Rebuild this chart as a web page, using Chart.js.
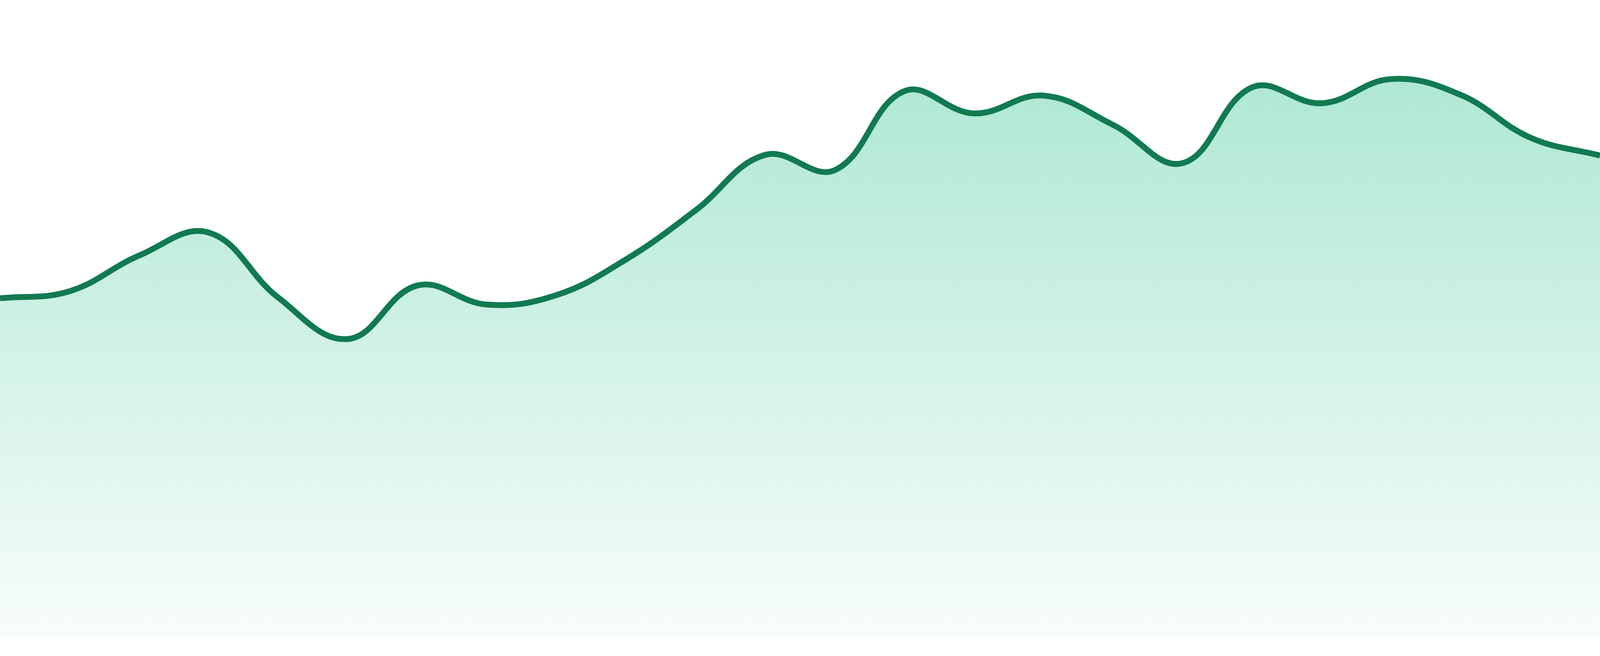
<!DOCTYPE html>
<html>
<head>
<meta charset="utf-8">
<script src="https://cdn.jsdelivr.net/npm/chart.js@4/dist/chart.umd.min.js"></script>
<style>
  html, body { margin: 0; padding: 0; background: #fff; }
  #wrap { width: 100vw; height: 100vh; position: relative; }
</style>
</head>
<body>
<div id="wrap"><canvas id="trend"></canvas></div>
<script>
// 24 samples
var labels = ['01', '02', '03', '04', '05', '06', '07', '08', '09', '10', '11', '12',
              '13', '14', '15', '16', '17', '18', '19', '20', '21', '22', '23', '24'];
var values = [53.2, 54.3, 59.9, 63.5, 53.3, 46.8, 55.2, 52.2, 53.7, 59.3, 67.0, 75.7,
              73.3, 85.7, 82.2, 85.0, 80.4, 74.4, 86.3, 83.8, 87.6, 85.1, 78.4, 75.6];
var yMin = 0;
var yMax = 100;

var lineColor = '#117a50';

function areaFill(context) {
    var chart = context.chart;
    var area = chart.chartArea;
    if (!area) return 'rgba(16,185,129,0.2)';
    var g = chart.ctx.createLinearGradient(0, area.top, 0, area.bottom);
    g.addColorStop(0, 'rgba(16,185,129,0.38)');
    g.addColorStop(1, 'rgba(16,185,129,0.03)');
    return g;
}

var ctx = document.getElementById('trend');
var trendChart = new Chart(ctx, {
    type: 'line',
    data: {
        labels: labels,
        datasets: [{
            data: values,
            borderColor: lineColor,
            borderWidth: 15,
            backgroundColor: areaFill,
            fill: 'start',
            tension: 0.4,
            pointRadius: 0,
            pointHoverRadius: 0,
        }]
    },
    options: {
        responsive: true,
        maintainAspectRatio: false,
        animation: false,
        layout: { padding: { top: 0, left: 0, right: 0, bottom: 48 } },
        plugins: {
            legend: { display: false },
            tooltip: { enabled: false },
        },
        scales: {
            x: { display: false, offset: false },
            y: { display: false, min: yMin, max: yMax },
        },
    }
});
</script>
</body>
</html>
